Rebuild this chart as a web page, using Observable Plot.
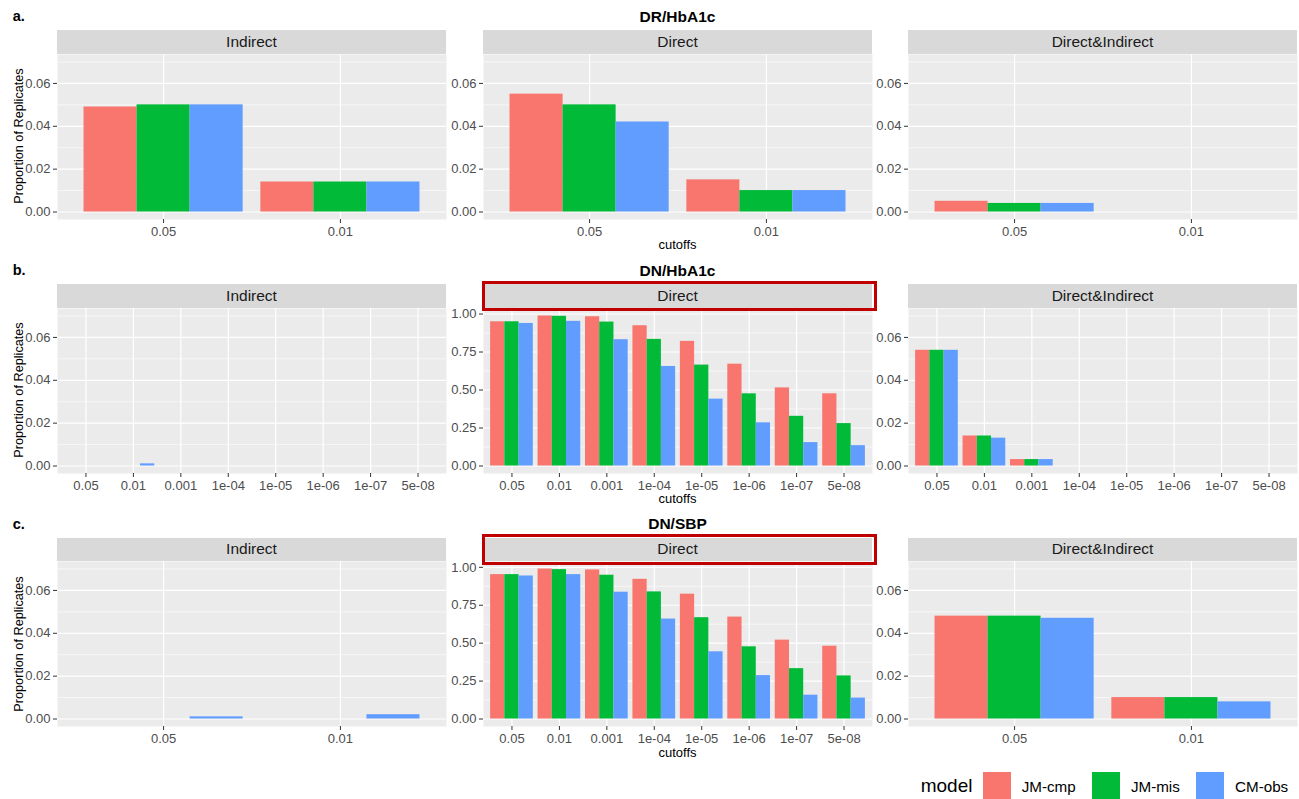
<!DOCTYPE html>
<html><head><meta charset="utf-8">
<script src="https://cdn.jsdelivr.net/npm/d3@7"></script>
<script src="https://cdn.jsdelivr.net/npm/@observablehq/plot@0.6"></script>
<style>
body{margin:0;background:#fff;font-family:"Liberation Sans",Arial,Helvetica,sans-serif;}
#root{position:relative;width:1299px;height:799px;overflow:hidden;background:#fff;}
.abs{position:absolute;white-space:nowrap;}
.strip{position:absolute;background:#D9D9D9;color:#1A1A1A;font-size:15.5px;display:flex;align-items:center;justify-content:center;}
.ctr{transform:translate(-50%,-50%);}
.redbox{position:absolute;border:3px solid #C00000;box-sizing:border-box;}
svg{overflow:visible;}
</style></head><body><div id="root"></div>
<script>
// ---- data ----
const models = ["JM-cmp", "JM-mis", "CM-obs"];
const colors = ["#F8766D", "#00BA38", "#619CFF"];
const panelTypes = ["Indirect", "Direct", "Direct&Indirect"];
const rowTitles = ["DR/HbA1c", "DN/HbA1c", "DN/SBP"];
const rowLabels = ["a.", "b.", "c."];
const cutoffs2 = ["0.05", "0.01"];
const cutoffs8 = ["0.05", "0.01", "0.001", "1e-04", "1e-05", "1e-06", "1e-07", "5e-08"];
const smallTicks = [0, 0.02, 0.04, 0.06];
const bigTicks = [0, 0.25, 0.5, 0.75, 1];
const smallYMax = 0.07;

// values per model (JM-cmp, JM-mis, CM-obs)
// row a: DR/HbA1c
const a_indirect = [[0.049, 0.014], [0.050, 0.014], [0.050, 0.014]];
const a_direct   = [[0.055, 0.015], [0.050, 0.010], [0.042, 0.010]];
const a_both     = [[0.005, 0], [0.004, 0], [0.004, 0]];
// row b: DN/HbA1c
const b_indirect = [[0,0,0,0,0,0,0,0],[0,0,0,0,0,0,0,0],[0,0.001,0,0,0,0,0,0]];
const b_direct   = [[0.949,0.987,0.982,0.923,0.820,0.670,0.514,0.475],
                    [0.949,0.985,0.947,0.833,0.664,0.475,0.327,0.279],
                    [0.938,0.952,0.831,0.655,0.440,0.284,0.154,0.134]];
const b_both     = [[0.054,0.014,0.003,0,0,0,0,0],[0.054,0.014,0.003,0,0,0,0,0],[0.054,0.013,0.003,0,0,0,0,0]];
// row c: DN/SBP
const c_indirect = [[0, 0], [0, 0], [0.001, 0.002]];
const c_direct   = [[0.952,0.989,0.983,0.921,0.823,0.672,0.520,0.480],
                    [0.952,0.985,0.948,0.838,0.668,0.476,0.332,0.284],
                    [0.943,0.952,0.836,0.659,0.443,0.286,0.157,0.138]];
const c_both     = [[0.048, 0.010], [0.048, 0.010], [0.047, 0.008]];

const rows = [
  {cut: [cutoffs2, cutoffs2, cutoffs2], vals: [a_indirect, a_direct, a_both]},
  {cut: [cutoffs8, cutoffs8, cutoffs8], vals: [b_indirect, b_direct, b_both]},
  {cut: [cutoffs2, cutoffs8, cutoffs2], vals: [c_indirect, c_direct, c_both]}
];

// ---- layout ----
const root = document.getElementById("root");
const colX = [57, 483, 908];
const panelW = 389;
const stripTop = [30, 284, 537.5];
const stripH = 23.7;
const panelH = 165;
const ML = 50, MR = 4, MB = 34;
const FONT = '"Liberation Sans", Arial, Helvetica, sans-serif';

function addText(txt, x, y, css) {
  const d = document.createElement("div");
  d.className = "abs ctr";
  d.textContent = txt;
  d.style.left = x + "px"; d.style.top = y + "px";
  Object.assign(d.style, css || {});
  root.appendChild(d);
  return d;
}

function drawPanel(r, c) {
  const cutoffs = rows[r].cut[c];
  const vals = rows[r].vals[c];
  const data = [];
  models.forEach((m, i) => cutoffs.forEach((k, j) => data.push({cutoff: k, model: m, value: vals[i][j]})));
  const isBig = (r > 0 && c === 1);
  const yMax = isBig ? d3.max(data, d => d.value) : smallYMax;
  const yTicks = isBig ? bigTicks : smallTicks;
  const yMinor = yTicks.slice(0, -1).map((t, i) => (t + yTicks[i + 1]) / 2)
    .concat([yTicks[yTicks.length - 1] + (yTicks[1] - yTicks[0]) / 2])
    .filter(v => v <= 1.05 * yMax);
  const common = {
    width: ML + panelW + MR, height: panelH + MB,
    marginLeft: ML, marginRight: MR, marginTop: 0, marginBottom: MB,
    x: {type: "band", domain: cutoffs, paddingInner: 0.1, paddingOuter: 0.15, round: false, axis: null},
    y: {domain: [-0.05 * yMax, 1.05 * yMax], axis: null},
    color: {domain: models, range: colors},
    style: {fontFamily: FONT, fontSize: "13px", color: "#4D4D4D", background: "transparent", overflow: "visible"}
  };
  const probe = Plot.plot({...common, marks: [Plot.frame()]});
  const bw = probe.scale("x").bandwidth;
  const marks = [
    Plot.frame({fill: "#EBEBEB", stroke: null}),
    Plot.gridY(yMinor, {stroke: "white", strokeOpacity: 1, strokeWidth: 0.6}),
    Plot.gridY(yTicks, {stroke: "white", strokeOpacity: 1, strokeWidth: 1.2}),
    Plot.gridX(cutoffs, {stroke: "white", strokeOpacity: 1, strokeWidth: 1.2}),
    ...models.map((m, i) => Plot.barY(data.filter(d => d.model === m), {
      x: "cutoff", y: "value", fill: "model",
      insetLeft: i * bw / 3, insetRight: (2 - i) * bw / 3
    })),
    Plot.axisY(yTicks, {tickSize: 4, tickPadding: 3, tickFormat: d3.format(".2f"), fontSize: 13, label: null, stroke: "#333333", fill: "#4D4D4D"}),
    Plot.axisX(cutoffs, {tickSize: 4, tickPadding: 3, fontSize: 13, label: null, stroke: "#333333", fill: "#4D4D4D"})
  ];
  const svg = Plot.plot({...common, marks});
  const pTop = stripTop[r] + stripH;
  svg.style.position = "absolute";
  svg.style.left = (colX[c] - ML) + "px";
  svg.style.top = pTop + "px";
  root.appendChild(svg);

  // strip
  const s = document.createElement("div");
  s.className = "strip";
  s.style.left = colX[c] + "px"; s.style.top = stripTop[r] + "px";
  s.style.width = panelW + "px"; s.style.height = stripH + "px";
  s.textContent = panelTypes[c];
  root.appendChild(s);

  if (isBig) {
    const b = document.createElement("div");
    b.className = "redbox";
    b.style.left = (colX[c] - 1.5) + "px"; b.style.top = (stripTop[r] - 3.3) + "px";
    b.style.width = "395.5px"; b.style.height = "30.5px";
    root.appendChild(b);
  }
  if (c === 1) {
    addText("cutoffs", colX[c] + panelW / 2, pTop + panelH + 25.5, {fontSize: "13px", color: "#000"});
    addText(rowTitles[r], colX[c] + panelW / 2, stripTop[r] - 13.5, {fontSize: "15.5px", fontWeight: "bold", color: "#000"});
  }
  if (c === 0) {
    addText("Proportion of Replicates", 19, pTop + panelH / 2, {fontSize: "12.7px", color: "#000", transform: "translate(-50%,-50%) rotate(-90deg)"});
    const l = addText(rowLabels[r], 12.7, stripTop[r] - 14, {fontSize: "14.5px", fontWeight: "bold", color: "#000", transform: "translate(0,-50%)"});
  }
}

for (let r = 0; r < 3; r++) for (let c = 0; c < 3; c++) drawPanel(r, c);

// legend
const lg = document.createElement("div");
lg.className = "abs";
Object.assign(lg.style, {left: "920.7px", top: "772.3px", height: "28px", display: "flex", alignItems: "center"});
const t = document.createElement("span");
t.textContent = "model";
Object.assign(t.style, {fontSize: "19px", color: "#000", marginRight: "10.6px"});
lg.appendChild(t);
models.forEach((m, i) => {
  const k = document.createElement("span");
  Object.assign(k.style, {display: "inline-block", width: "27.7px", height: "28px", background: colors[i]});
  lg.appendChild(k);
  const lab = document.createElement("span");
  lab.textContent = m;
  Object.assign(lab.style, {fontSize: "15.2px", color: "#000", marginLeft: "11px", marginRight: i < 2 ? "16.5px" : "0"});
  lg.appendChild(lab);
});
root.appendChild(lg);
</script></body></html>
